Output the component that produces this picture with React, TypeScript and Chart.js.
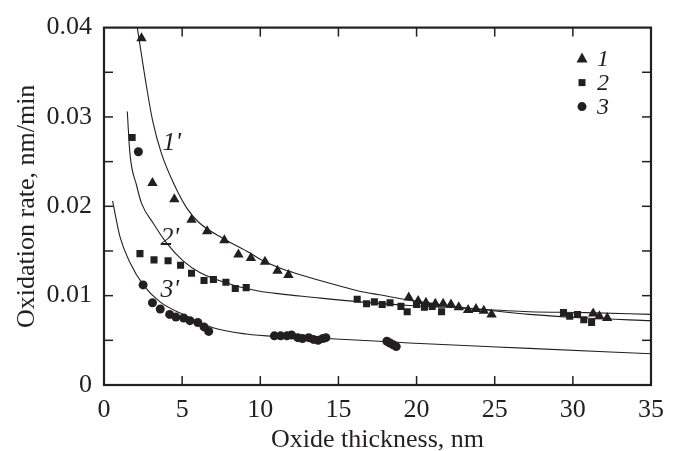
import React, { useEffect, useRef } from "react";
import { Chart, registerables } from "chart.js";
Chart.register(...registerables);

const FONT = '"Liberation Serif", "Times New Roman", serif';
const INK = "#231f20";

// Measured data (series 1: triangles, 2: squares, 3: circles)
const series1X = [2.4, 3.1, 4.5, 5.6, 6.6, 7.7, 8.6, 9.4, 10.3, 11.1, 11.8, 19.5, 20.1, 20.6, 21.2, 21.7, 22.2, 22.7, 23.3, 23.8, 24.3, 24.8, 31.3, 31.7, 32.2];
const series1Y = [0.0388, 0.0226, 0.0208, 0.0185, 0.0172, 0.0162, 0.0146, 0.0142, 0.0138, 0.0128, 0.0123, 0.0098, 0.0094, 0.0092, 0.0091, 0.0091, 0.009, 0.0087, 0.0084, 0.0085, 0.0083, 0.0079, 0.008, 0.0077, 0.0075];

const series2X = [1.8, 2.3, 3.2, 4.1, 4.9, 5.6, 6.4, 7.0, 7.8, 8.4, 9.1, 16.2, 16.8, 17.3, 17.8, 18.3, 19.0, 19.4, 20.0, 20.5, 21.0, 21.6, 29.4, 29.8, 30.3, 30.7, 31.2];
const series2Y = [0.0277, 0.0147, 0.014, 0.0139, 0.0134, 0.0125, 0.0117, 0.0118, 0.0115, 0.0108, 0.0109, 0.0096, 0.0091, 0.0093, 0.009, 0.0092, 0.0088, 0.0082, 0.009, 0.0087, 0.0088, 0.0082, 0.0081, 0.0077, 0.0079, 0.0073, 0.007];

const series3X = [2.2, 2.5, 3.1, 3.6, 4.2, 4.6, 5.1, 5.5, 6.0, 6.4, 6.7, 10.9, 11.3, 11.7, 12.0, 12.4, 12.7, 13.1, 13.4, 13.7, 14.0, 14.2, 18.1, 18.3, 18.5, 18.7];
const series3Y = [0.0261, 0.0112, 0.0092, 0.0085, 0.0079, 0.0076, 0.0075, 0.0072, 0.007, 0.0065, 0.006, 0.0055, 0.0055, 0.0055, 0.0056, 0.0053, 0.0052, 0.0053, 0.0051, 0.005, 0.0052, 0.0053, 0.0049, 0.0047, 0.0045, 0.0043];

// Fitted curves 1', 2', 3'
const curve1X = [2.13, 2.73, 3.11, 3.68, 4.53, 5.3, 6.13, 7.62, 9.32, 9.96, 11.24, 12.09, 14.22, 16.35, 17.62, 19.5, 21.9, 24.4, 27.2, 30.8, 35];
const curve1Y = [0.04, 0.0333, 0.0296, 0.0259, 0.0223, 0.0198, 0.0181, 0.0164, 0.0148, 0.0141, 0.0131, 0.0126, 0.0115, 0.0105, 0.0101, 0.0095, 0.0089, 0.0084, 0.0079, 0.0075, 0.0072];

const curve2X = [1.49, 1.66, 2.09, 2.41, 3.15, 4.0, 5.06, 6.13, 8.26, 9.96, 11.24, 13.15, 16.35, 19.54, 21.88, 27.2, 30.82, 35];
const curve2Y = [0.0306, 0.0259, 0.0223, 0.0203, 0.0181, 0.0159, 0.0139, 0.0126, 0.0112, 0.0105, 0.0102, 0.00985, 0.0093, 0.0089, 0.0087, 0.0082, 0.0081, 0.0079];

const curve3X = [0.55, 1.02, 1.66, 2.51, 3.58, 5.06, 6.98, 9.11, 11.24, 14.22, 17.62, 19.54, 27.2, 35];
const curve3Y = [0.0206, 0.0166, 0.0137, 0.0112, 0.0093, 0.0079, 0.0064, 0.0057, 0.0054, 0.0052, 0.0049, 0.0047, 0.0041, 0.0035];

const legendLabels = ["1", "2", "3"];
const curveLabels = ["1'", "2'", "3'"];
const curveLabelX = [4.34, 4.21, 4.21];
const curveLabelY = [0.0271, 0.0164, 0.0106];

const xTitle = "Oxide thickness, nm";
const yTitle = "Oxidation rate, nm/min";

const zip = (xs: number[], ys: number[]) => xs.map((x, i) => ({ x, y: ys[i] }));

function drawMarker(ctx: CanvasRenderingContext2D, kind: string, x: number, y: number) {
  ctx.beginPath();
  if (kind === "triangle") {
    ctx.moveTo(x, y - 6);
    ctx.lineTo(x + 5.5, y + 4);
    ctx.lineTo(x - 5.5, y + 4);
    ctx.closePath();
  } else if (kind === "rect") {
    ctx.rect(x - 3.5, y - 3.5, 7, 7);
  } else {
    ctx.arc(x, y, 4.5, 0, Math.PI * 2);
  }
  ctx.fill();
}

const overlay = {
  id: "overlay",
  afterDraw(chart: any) {
    const { ctx, chartArea: a, scales } = chart;
    const xs = scales.x;
    const ys = scales.y;
    ctx.save();
    ctx.strokeStyle = INK;
    ctx.fillStyle = INK;
    ctx.lineWidth = 1.5;
    const seg = (x1: number, y1: number, x2: number, y2: number) => {
      ctx.beginPath();
      ctx.moveTo(x1, y1);
      ctx.lineTo(x2, y2);
      ctx.stroke();
    };
    const TL = 9;
    xs.ticks.forEach((t: any) => {
      const px = xs.getPixelForValue(t.value);
      if (px <= a.left + 1 || px >= a.right - 1) return;
      seg(px, a.bottom, px, a.bottom - TL);
      seg(px, a.top, px, a.top + TL);
    });
    ys.ticks.forEach((t: any) => {
      const py = ys.getPixelForValue(t.value);
      if (py <= a.top + 1 || py >= a.bottom - 1) return;
      seg(a.left, py, a.left + TL, py);
      seg(a.right, py, a.right - TL, py);
    });
    ctx.lineWidth = 2.2;
    ctx.strokeRect(a.left, a.top, a.right - a.left, a.bottom - a.top);

    // curve labels
    ctx.font = `italic 26px ${FONT}`;
    ctx.textAlign = "center";
    ctx.textBaseline = "middle";
    curveLabels.forEach((s, i) => {
      ctx.fillText(s, xs.getPixelForValue(curveLabelX[i]), ys.getPixelForValue(curveLabelY[i]));
    });

    // legend
    const kinds = ["triangle", "rect", "circle"];
    ctx.font = `italic 24px ${FONT}`;
    ctx.textAlign = "left";
    legendLabels.forEach((s, i) => {
      const y = a.top + 31 + i * 24;
      drawMarker(ctx, kinds[i], a.right - 69, y);
      ctx.fillText(s, a.right - 54, y + 1);
    });
    ctx.restore();
  },
};

export default function App() {
  const ref = useRef<HTMLCanvasElement | null>(null);
  useEffect(() => {
    if (!ref.current) return;
    const curveStyle = {
      showLine: true,
      pointRadius: 0,
      borderWidth: 1.1,
      borderColor: INK,
      backgroundColor: INK,
      cubicInterpolationMode: "monotone" as const,
      order: 2,
    };
    const markStyle = {
      showLine: false,
      backgroundColor: INK,
      borderColor: INK,
      borderWidth: 0,
      order: 1,
    };
    const chart = new Chart(ref.current, {
      type: "scatter",
      data: {
        datasets: [
          { ...curveStyle, label: "1'", data: zip(curve1X, curve1Y) },
          { ...curveStyle, label: "2'", data: zip(curve2X, curve2Y) },
          { ...curveStyle, label: "3'", data: zip(curve3X, curve3Y) },
          { ...markStyle, label: "1", data: zip(series1X, series1Y), pointStyle: "triangle", pointRadius: 6 },
          { ...markStyle, label: "2", data: zip(series2X, series2Y), pointStyle: "rect", pointRadius: 5 },
          { ...markStyle, label: "3", data: zip(series3X, series3Y), pointStyle: "circle", pointRadius: 4.5 },
        ],
      },
      options: {
        responsive: false,
        animation: false,
        devicePixelRatio: 1,
        layout: { padding: { top: 20, right: 22, left: 0, bottom: 0 } },
        plugins: { legend: { display: false }, tooltip: { enabled: false } },
        scales: {
          x: {
            type: "linear",
            min: 0,
            max: 35,
            grid: { display: false, drawTicks: false },
            border: { display: false },
            ticks: {
              stepSize: 5,
              autoSkip: false,
              maxRotation: 0,
              padding: 10,
              color: INK,
              font: { family: FONT, size: 26 },
            },
            title: {
              display: true,
              text: xTitle,
              color: INK,
              font: { family: FONT, size: 26, lineHeight: 0.85 },
              padding: { top: 0, bottom: 0 },
            },
            afterFit: (s: any) => {
              s.height = 66;
            },
          },
          y: {
            type: "linear",
            min: 0,
            max: 0.04,
            grid: { display: false, drawTicks: false },
            border: { display: false },
            ticks: {
              stepSize: 0.005,
              autoSkip: false,
              padding: 12,
              color: INK,
              font: { family: FONT, size: 26 },
              callback: (v: any) => {
                const n = Number(v);
                const k = n / 0.01;
                if (Math.abs(k - Math.round(k)) > 1e-6) return "";
                return n === 0 ? "0" : n.toFixed(2);
              },
            },
            title: {
              display: true,
              text: yTitle,
              color: INK,
              font: { family: FONT, size: 26, lineHeight: 1 },
              padding: { top: 14, bottom: 0 },
            },
            afterFit: (s: any) => {
              s.width = 104;
            },
          },
        },
      },
      plugins: [overlay],
    });
    return () => chart.destroy();
  }, []);
  return (
    <div style={{ position: "absolute", left: 0, top: 0, width: 674, height: 451, background: "#fff" }}>
      <canvas ref={ref} width={674} height={451} />
    </div>
  );
}
